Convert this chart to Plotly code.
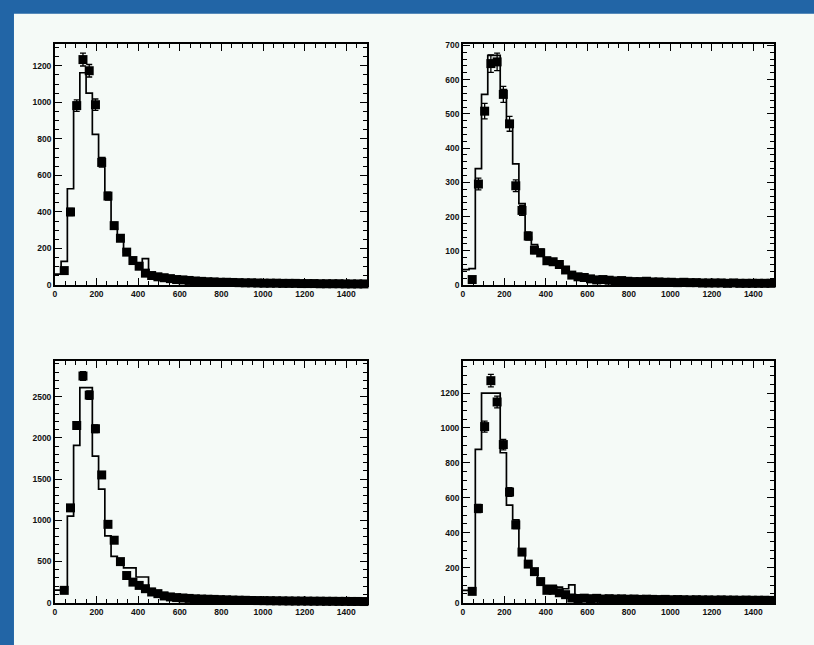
import plotly.graph_objects as go

# ---------------- data ----------------
BIN_WIDTH = 30
N_BINS = 50
x_tick_vals = [0, 200, 400, 600, 800, 1000, 1200, 1400]
x_tick_text = ["0", "200", "400", "600", "800", "1000", "1200", "1400"]

# top-left
data_tl = [None, 79, 400, 982, 1234, 1173, 987, 671, 487, 325, 256, 180, 134, 103, 65,
           52, 45, 40, 35, 30, 28, 25, 22, 20, 18, 17, 15, 15, 14, 13,
           12, 12, 11, 10, 10, 10, 9, 9, 9, 8, 8, 8, 7, 7, 7, 7, 6, 6, 6, 6]
hist_tl = [60, 130, 527, 1000, 1162, 1050, 825, 698, 491, 310, 250, 180, 125, 95, 145,
           60, 50, 42, 36, 32, 28, 25, 22, 20, 18, 17, 16, 15, 14, 13,
           12, 12, 11, 10, 10, 10, 9, 9, 9, 8, 8, 8, 7, 7, 7, 7, 6, 6, 6, 6]
# top-right
data_tr = [None, 16, 295, 508, 647, 652, 557, 471, 290, 218, 143, 102, 94, 71, 68,
           60, 44, 29, 24, 22, 18, 15, 16, 14, 12, 13, 11, 10, 10, 11,
           9, 9, 8, 8, 7, 8, 7, 7, 6, 6, 6, 6, 5, 6, 5, 5, 5, 5, 5, 5]
hist_tr = [45, 48, 340, 557, 671, 671, 571, 462, 354, 238, 140, 118, 105, 80, 75,
           62, 48, 38, 30, 25, 20, 18, 16, 15, 14, 13, 12, 11, 11, 10,
           10, 9, 9, 8, 8, 8, 7, 7, 7, 6, 6, 6, 6, 5, 5, 5, 5, 5, 5, 5]
# bottom-left
data_bl = [None, 148, 1150, 2151, 2752, 2520, 2111, 1550, 950, 757, 497, 328, 248, 208, 168,
           128, 108, 80, 68, 60, 55, 50, 45, 42, 40, 38, 35, 33, 30, 28,
           27, 25, 24, 23, 22, 21, 20, 19, 18, 18, 17, 16, 16, 15, 15, 14, 14, 13, 13, 12]
hist_bl = [150, 160, 1050, 1910, 2612, 2612, 1779, 1378, 809, 560, 470, 420, 420, 310, 310,
           170, 140, 120, 100, 90, 80, 70, 65, 60, 55, 50, 47, 45, 42, 40,
           38, 36, 34, 32, 30, 29, 28, 27, 26, 25, 24, 23, 22, 21, 20, 20, 19, 18, 18, 17]
# bottom-right
data_br = [None, 64, 539, 1008, 1271, 1149, 905, 633, 445, 289, 220, 177, 120, 70, 70,
           56, 45, 26, 23, 25, 22, 24, 20, 22, 20, 21, 19, 20, 18, 19,
           18, 17, 18, 16, 17, 16, 15, 16, 15, 15, 14, 15, 14, 14, 13, 14, 13, 13, 13, 12]
hist_br = [70, 70, 877, 1200, 1200, 1200, 858, 558, 473, 304, 210, 163, 116, 98, 98,
           88, 79, 101, 23, 22, 21, 20, 20, 19, 19, 18, 18, 17, 17, 17,
           16, 16, 16, 15, 15, 15, 15, 14, 14, 14, 14, 13, 13, 13, 13, 12, 12, 12, 12, 12]

panels = [
    dict(data=data_tl, hist=hist_tl, ymax=1317, ydt=200, yminor=50),
    dict(data=data_tr, hist=hist_tr, ymax=703, ydt=100, yminor=20),
    dict(data=data_bl, hist=hist_bl, ymax=2935, ydt=500, yminor=100),
    dict(data=data_br, hist=hist_br, ymax=1384, ydt=200, yminor=50),
]

# ---------------- layout geometry ----------------
W, H = 814, 645
xdoms = [[53 / W, 366 / W], [462 / W, 774 / W]]
ydoms = [[1 - 285 / H, 1 - 41 / H], [1 - 607 / H, 1 - 362 / H]]

bin_edges = [i * BIN_WIDTH for i in range(N_BINS + 1)]
bin_centers = [(bin_edges[i] + bin_edges[i + 1]) / 2 for i in range(N_BINS)]

FONT = "Liberation Sans Narrow, Liberation Sans, Arial"
PANEL = "#f5faf7"
BLUE = "#2265a6"

fig = go.Figure()
layout = dict(
    width=W, height=H, margin=dict(l=0, r=0, t=0, b=0),
    paper_bgcolor=BLUE, plot_bgcolor=PANEL, showlegend=False,
    shapes=[dict(type="rect", xref="paper", yref="paper", x0=12 / W, x1=1.1,
                 y0=-0.1, y1=1 - 10 / H, fillcolor=PANEL, line=dict(width=0), layer="below")],
)

for i, p in enumerate(panels):
    row, col = divmod(i, 2)
    n = i + 1
    xa = "x" if n == 1 else f"x{n}"
    ya = "y" if n == 1 else f"y{n}"
    fig.add_trace(go.Scatter(
        x=bin_edges, y=p["hist"] + [p["hist"][-1]], mode="lines", line_shape="hv",
        line=dict(color="black", width=1.7), xaxis=xa, yaxis=ya, hoverinfo="skip"))
    fig.add_trace(go.Scatter(
        x=bin_centers, y=p["data"], mode="markers", cliponaxis=False,
        marker=dict(symbol="square", size=9, color="black"),
        error_y=dict(type="sqrt", color="black", thickness=1.3, width=3),
        xaxis=xa, yaxis=ya))
    common = dict(showline=True, linecolor="black", linewidth=1.6, mirror="ticks",
                  ticks="inside", tickcolor="black", tickwidth=1.2, showgrid=False,
                  zeroline=False,
                  tickfont=dict(family=FONT, size=8.5, color="#111", weight="bold"))
    layout["xaxis" if n == 1 else f"xaxis{n}"] = dict(
        common, domain=xdoms[col], range=[0, 1500], anchor=ya, ticklen=7,
        tickvals=x_tick_vals, ticktext=x_tick_text,
        minor=dict(ticks="inside", ticklen=4, tickcolor="black", dtick=50, tick0=0))
    layout["yaxis" if n == 1 else f"yaxis{n}"] = dict(
        common, domain=ydoms[row], range=[0, p["ymax"]], anchor=xa, ticklen=7,
        dtick=p["ydt"], tick0=0,
        minor=dict(ticks="inside", ticklen=4, tickcolor="black", dtick=p["yminor"], tick0=0))

fig.update_layout(**layout)
fig.write_html("out.html")
